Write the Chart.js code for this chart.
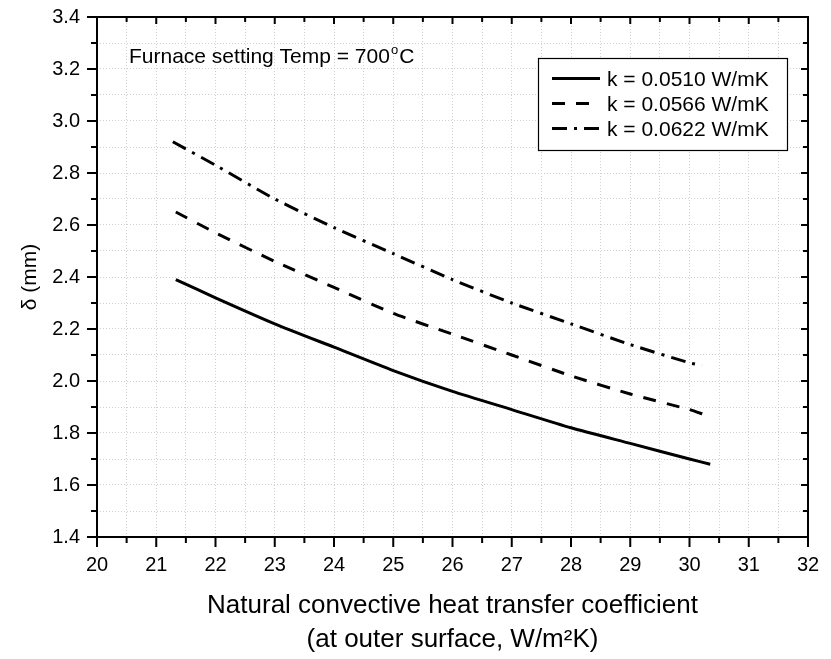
<!DOCTYPE html>
<html>
<head>
<meta charset="utf-8">
<script src="https://cdn.jsdelivr.net/npm/chart.js@4/dist/chart.umd.min.js"></script>
<style>
  html, body { margin: 0; padding: 0; background: #fff; }
  #wrap { width: 831px; height: 659px; }
</style>
</head>
<body>
<div id="wrap"><canvas id="c" width="831" height="659"></canvas></div>
<script>
// ---- data ----
const seriesLabels = ['k = 0.0510 W/mK', 'k = 0.0566 W/mK', 'k = 0.0622 W/mK'];
const hSolid   = [21.33, 22, 23, 24, 25, 26, 27, 28, 29, 30, 30.35];
const dSolid   = [2.39, 2.32, 2.22, 2.13, 2.04, 1.96, 1.89, 1.82, 1.76, 1.70, 1.68];
const hDashed  = [21.33, 22, 23, 24, 25, 26, 27, 28, 29, 30, 30.26];
const dDashed  = [2.65, 2.57, 2.46, 2.36, 2.26, 2.18, 2.10, 2.02, 1.95, 1.89, 1.87];
const hDashDot = [21.28, 22, 23, 24, 25, 26, 27, 28, 29, 30, 30.21];
const dDashDot = [2.92, 2.83, 2.70, 2.59, 2.49, 2.39, 2.30, 2.22, 2.14, 2.07, 2.06];
const xTickMin = 20, xTickMax = 32, xTickStep = 0.5;
const yTickMin = 1.4, yTickMax = 3.4, yTickStep = 0.1;
const xTitle = ['Natural convective heat transfer coefficient', '(at outer surface, W/m\u00B2K)'];
const yTitle = '\u03B4 (mm)';
const noteMain = 'Furnace setting Temp = 700';
const noteSup = 'o';
const noteEnd = 'C';

const FONT = '"Liberation Sans", Arial, Helvetica, sans-serif';
const dashes = [[], [13, 11], [15, 7, 3, 7]];

function pts(xs, ys) { return xs.map((x, i) => ({ x: x, y: ys[i] })); }

const datasets = [
  { label: seriesLabels[0], data: pts(hSolid, dSolid) },
  { label: seriesLabels[1], data: pts(hDashed, dDashed) },
  { label: seriesLabels[2], data: pts(hDashDot, dDashDot) }
].map((d, i) => Object.assign(d, {
  showLine: true, borderColor: '#000', backgroundColor: '#000', borderWidth: 3,
  borderDash: dashes[i], pointRadius: 0, tension: 0.2, borderCapStyle: 'butt', fill: false
}));

const framePlugin = {
  id: 'frame',
  afterDraw(chart) {
    const ctx = chart.ctx, a = chart.chartArea;
    const xs = chart.scales.x, ys = chart.scales.y;
    ctx.save();
    ctx.strokeStyle = '#000';
    ctx.lineWidth = 2;
    ctx.strokeRect(a.left, a.top, a.right - a.left, a.bottom - a.top);
    ctx.lineWidth = 2;
    ctx.beginPath();
    xs.ticks.forEach(t => {
      const v = t.value;
      const major = Math.abs(v - Math.round(v)) < 1e-6;
      const px = xs.getPixelForValue(v);
      const L = major ? 10 : 6;
      ctx.moveTo(px, a.bottom); ctx.lineTo(px, a.bottom + L);
      const Li = major ? 7 : 5;
      ctx.moveTo(px, a.top); ctx.lineTo(px, a.top + Li);
    });
    ys.ticks.forEach(t => {
      const v = t.value;
      const major = Math.round(v * 10) % 2 === 0;
      const py = ys.getPixelForValue(v);
      const L = major ? 10 : 6;
      ctx.moveTo(a.left, py); ctx.lineTo(a.left - L, py);
      const Li = major ? 7 : 5;
      ctx.moveTo(a.right, py); ctx.lineTo(a.right - Li, py);
    });
    ctx.stroke();

    // annotation
    ctx.fillStyle = '#000';
    ctx.textBaseline = 'alphabetic';
    ctx.textAlign = 'left';
    ctx.font = '21px ' + FONT;
    let x = 129, y = 63;
    ctx.fillText(noteMain, x, y);
    x += ctx.measureText(noteMain).width + 1;
    ctx.font = '13px ' + FONT;
    ctx.fillText(noteSup, x, y - 9);
    x += ctx.measureText(noteSup).width + 1;
    ctx.font = '21px ' + FONT;
    ctx.fillText(noteEnd, x, y);

    // legend box
    const bx = 538, by = 58, bw = 249, bh = 92;
    ctx.fillStyle = '#fff';
    ctx.fillRect(bx, by, bw, bh);
    ctx.lineWidth = 1.2;
    ctx.strokeStyle = '#000';
    ctx.strokeRect(bx + 0.5, by + 0.5, bw, bh);
    chart.data.datasets.forEach((ds, i) => {
      const base = 86 + i * 25;
      const ly = base - 7.5;
      ctx.save();
      ctx.lineWidth = 3;
      ctx.lineCap = 'butt';
      ctx.setLineDash(ds.borderDash || []);
      ctx.beginPath();
      ctx.moveTo(552, ly); ctx.lineTo(600, ly);
      ctx.stroke();
      ctx.restore();
      ctx.fillStyle = '#000';
      ctx.font = '21px ' + FONT;
      ctx.fillText(ds.label, 607, base);
    });
    ctx.restore();
  }
};

new Chart(document.getElementById('c'), {
  type: 'scatter',
  data: { datasets },
  options: {
    responsive: false,
    animation: false,
    devicePixelRatio: 1,
    layout: { padding: { left: 0, right: 23, top: 17, bottom: 0 } },
    plugins: { legend: { display: false }, tooltip: { enabled: false } },
    scales: {
      x: {
        type: 'linear', min: xTickMin, max: xTickMax,
        afterFit(s) { s.height = 122; s.paddingLeft = 0; s.paddingRight = 0; },
        ticks: {
          stepSize: xTickStep, color: '#000', padding: 16, maxRotation: 0, autoSkip: false,
          font: { family: FONT, size: 20 },
          callback: v => Math.abs(v - Math.round(v)) < 1e-6 ? String(Math.round(v)) : ''
        },
        grid: { color: '#cfcfcf', lineWidth: 1, drawTicks: false },
        border: { display: false, dash: [1, 2] },
        title: {
          display: true, text: xTitle, color: '#000',
          font: { family: FONT, size: 26, lineHeight: 34 / 26 },
          padding: { top: 0, bottom: 2 }
        }
      },
      y: {
        type: 'linear', min: yTickMin, max: yTickMax,
        afterFit(s) { s.width = 97; s.paddingTop = 0; s.paddingBottom = 0; },
        ticks: {
          stepSize: yTickStep, color: '#000', padding: 17, autoSkip: false,
          font: { family: FONT, size: 20 },
          callback: v => Math.round(v * 10) % 2 === 0 ? v.toFixed(1) : ''
        },
        grid: { color: '#cfcfcf', lineWidth: 1, drawTicks: false },
        border: { display: false, dash: [1, 2] },
        title: {
          display: true, text: yTitle, color: '#000',
          font: { family: FONT, size: 21, lineHeight: 1.2 },
          padding: { top: 18, bottom: 0 }
        }
      }
    }
  },
  plugins: [framePlugin]
});
</script>
</body>
</html>
